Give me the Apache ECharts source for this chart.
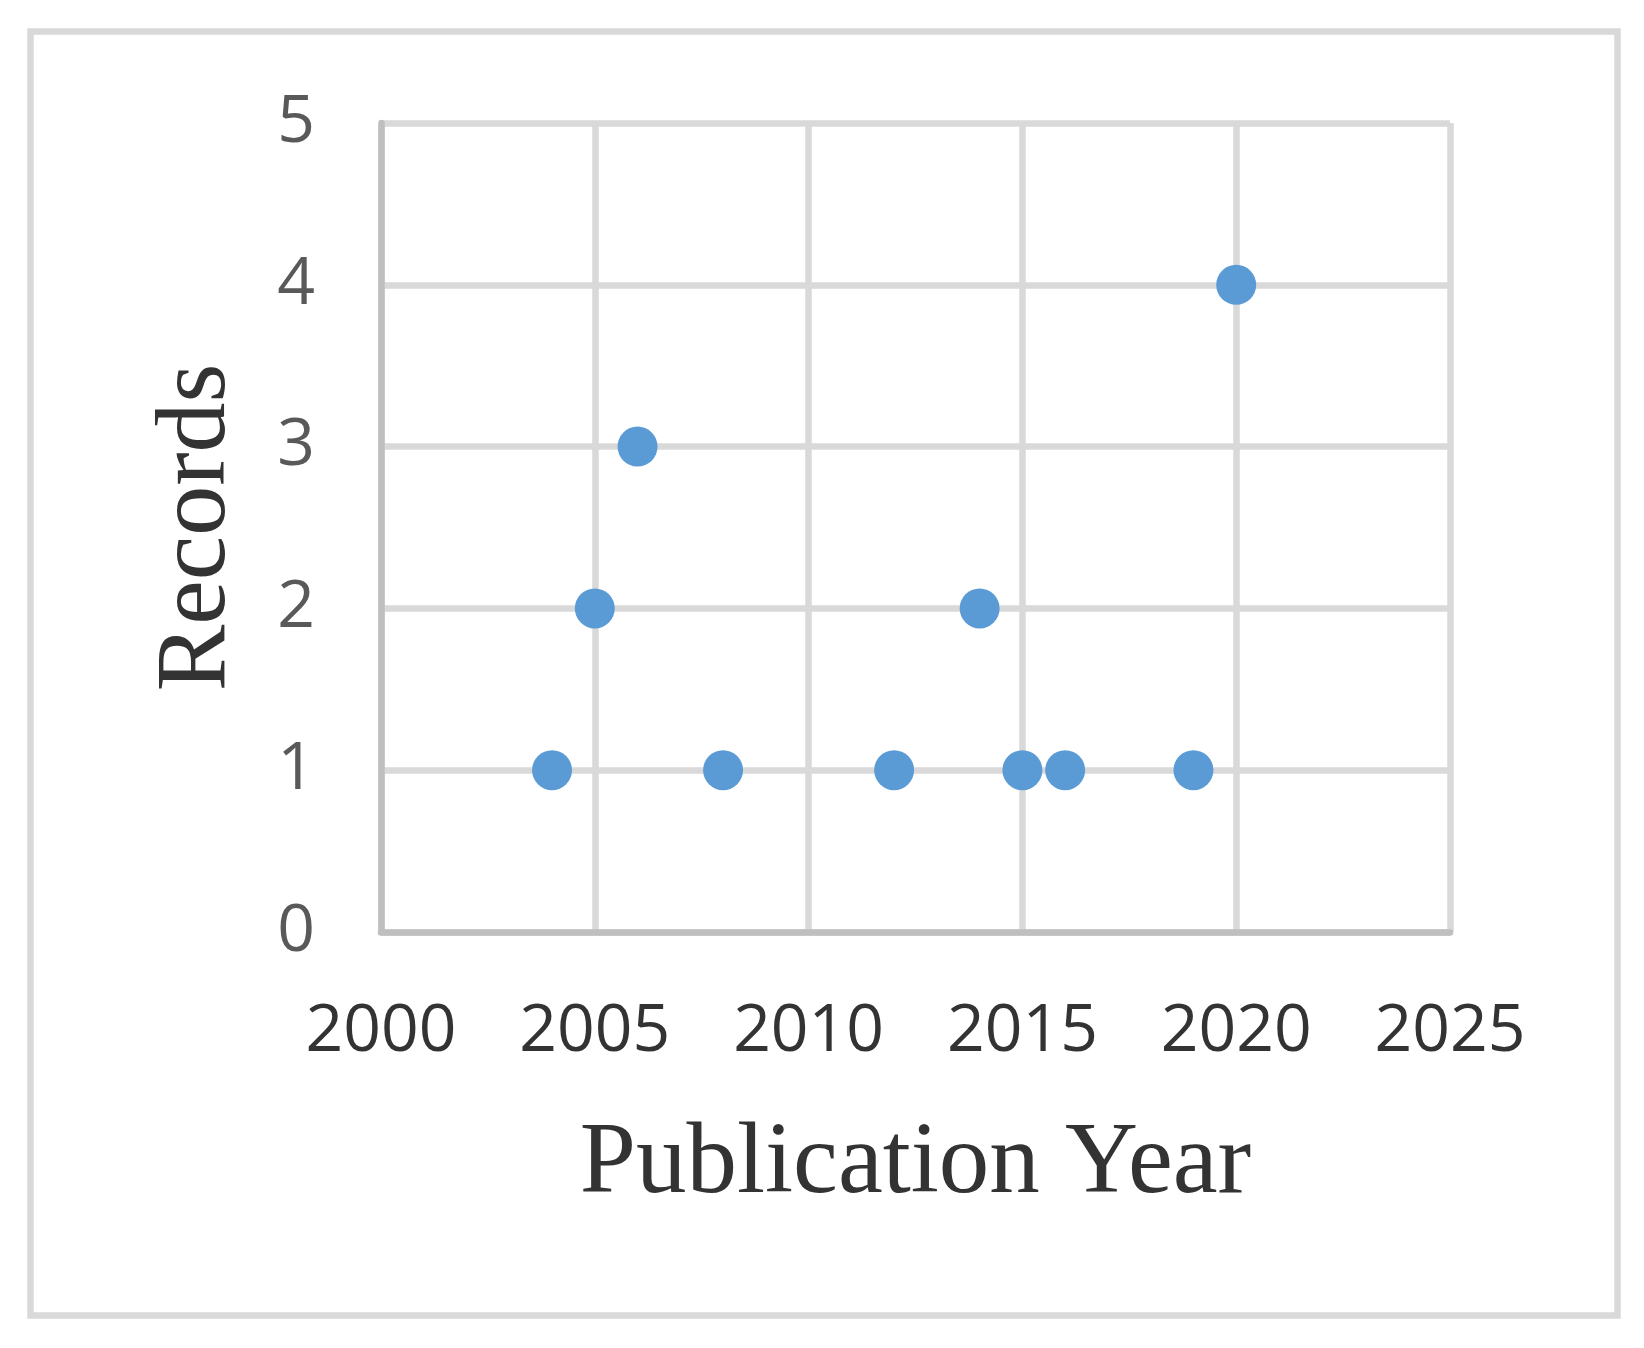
<!DOCTYPE html>
<html>
<head>
<meta charset="utf-8">
<script src="https://cdn.jsdelivr.net/npm/echarts@6/dist/echarts.min.js"></script>
<style>
html,body{margin:0;padding:0;background:#fff;}
#chart{width:1644px;height:1348px;}
</style>
</head>
<body>
<div id="chart"></div>
<script>
const years = [2004, 2005, 2006, 2008, 2012, 2014, 2015, 2016, 2019, 2020];
const records = [1, 2, 3, 1, 1, 2, 1, 1, 1, 4];
const xTitle = 'Publication Year';
const yTitle = 'Records';

const points = years.map((y, i) => [y, records[i]]);

const chart = echarts.init(document.getElementById('chart'));
chart.setOption({
  backgroundColor: '#ffffff',
  animation: false,
  graphic: [{
    type: 'rect',
    shape: {x: 30.5, y: 31.5, width: 1587, height: 1284},
    style: {fill: 'none', stroke: '#d9d9d9', lineWidth: 6.5},
    silent: true
  }],
  grid: {left: 381, right: 194, top: 123, bottom: 416},
  xAxis: {
    type: 'value',
    min: 2000, max: 2025, interval: 5,
    name: xTitle,
    nameLocation: 'middle',
    nameGap: 183,
    nameTextStyle: {fontFamily: 'Liberation Serif', fontSize: 101, color: '#333333'},
    axisLine: {show: true, onZero: false, lineStyle: {color: '#bfbfbf', width: 6.5}},
    axisTick: {show: false},
    axisLabel: {fontFamily: 'Open Sans', fontSize: 66, color: '#333333', margin: 67,
      formatter: v => String(v)},
    splitLine: {show: true, lineStyle: {color: '#d9d9d9', width: 6.5}}
  },
  yAxis: {
    type: 'value',
    min: 0, max: 5, interval: 1,
    name: yTitle,
    nameLocation: 'middle',
    nameGap: 133,
    nameRotate: 90,
    nameTextStyle: {fontFamily: 'Liberation Serif', fontSize: 100, color: '#333333'},
    axisLine: {show: true, onZero: false, lineStyle: {color: '#bfbfbf', width: 6.5}},
    axisTick: {show: false},
    axisLabel: {fontFamily: 'Open Sans', fontSize: 66, color: '#595959', margin: 66},
    splitLine: {show: true, lineStyle: {color: '#d9d9d9', width: 6.5}}
  },
  series: [{
    type: 'scatter',
    data: points,
    symbol: 'circle',
    symbolSize: 40,
    itemStyle: {color: '#5b9bd5', opacity: 1}
  }]
});
</script>
</body>
</html>
